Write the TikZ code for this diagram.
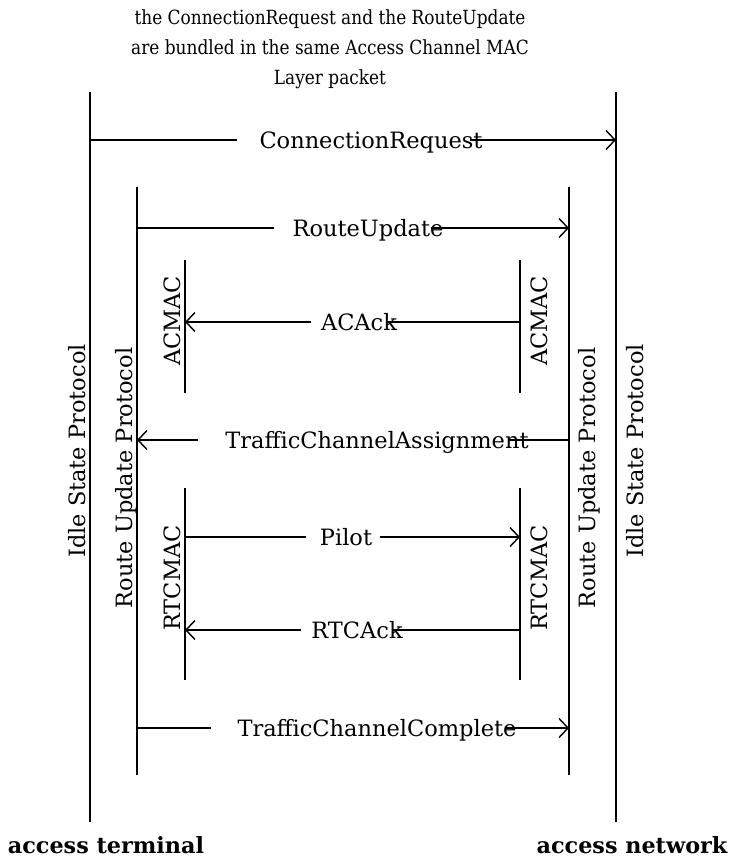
\documentclass[tikz,border=0pt]{standalone}
\usepackage{fontspec}
\setmainfont{DejaVu Serif}
\usetikzlibrary{arrows.meta}
\tikzset{
  life/.style={line width=1.6pt},
  msg/.style={line width=1.4pt},
  tip/.style={-{Straight Barb[length=9pt,width=19pt,line width=1.4pt]}},
  lbl/.style={inner sep=0pt,anchor=base,font=\fontsize{22.5}{26}\selectfont},
  vlbl/.style={inner sep=0pt,rotate=90,anchor=base,font=\fontsize{22.5}{26}\selectfont},
  bold/.style={inner sep=0pt,anchor=base,font=\fontsize{22.3}{26}\selectfont\bfseries},
}
\begin{document}
\begin{tikzpicture}[x=1pt,y=-1pt]
\useasboundingbox (0,0) rectangle (732,859);
% title
\node[inner sep=0pt,font=\fontsize{19.5}{30}\selectfont] (title) at (330,49)
  {\scalebox{0.87}[1]{\begin{tabular}{@{}c@{}}the ConnectionRequest and the RouteUpdate\\are bundled in the same Access Channel MAC\\Layer packet\end{tabular}}};
% lifelines
\coordinate (aT) at (90,92);  \coordinate (aB) at (90,822);
\coordinate (nT) at (616,92); \coordinate (nB) at (616,822);
\coordinate (raT) at (137,187); \coordinate (raB) at (137,775);
\coordinate (rnT) at (569,187); \coordinate (rnB) at (569,775);
\coordinate (acaT) at (185,260); \coordinate (acaB) at (185,393);
\coordinate (acnT) at (520,260); \coordinate (acnB) at (520,393);
\coordinate (rtaT) at (185,488); \coordinate (rtaB) at (185,680);
\coordinate (rtnT) at (520,488); \coordinate (rtnB) at (520,680);
\draw[life] (aT) -- (aB);
\draw[life] (nT) -- (nB);
\draw[life] (raT) -- (raB);
\draw[life] (rnT) -- (rnB);
\draw[life] (acaT) -- (acaB);
\draw[life] (acnT) -- (acnB);
\draw[life] (rtaT) -- (rtaB);
\draw[life] (rtnT) -- (rtnB);
% vertical labels (anchor = baseline)
\node[vlbl] (isa) at (85,451) {Idle State Protocol};
\node[vlbl] (isn) at (643,451) {Idle State Protocol};
\node[vlbl] (rua) at (132,478) {Route Update Protocol};
\node[vlbl] (run) at (595,478) {Route Update Protocol};
\node[vlbl] (aca) at (180,321) {ACMAC};
\node[vlbl] (acn) at (547,321) {ACMAC};
\node[vlbl] (rta) at (180,578) {RTCMAC};
\node[vlbl] (rtn) at (547,578) {RTCMAC};
% endpoints on lifelines
\coordinate (cr1) at (90,140);  \coordinate (cr2) at (616,140);
\coordinate (ru1) at (137,228); \coordinate (ru2) at (569,228);
\coordinate (ak1) at (185,322); \coordinate (ak2) at (520,322);
\coordinate (ta1) at (137,440); \coordinate (ta2) at (569,440);
\coordinate (pi1) at (185,537); \coordinate (pi2) at (520,537);
\coordinate (rk1) at (185,630); \coordinate (rk2) at (520,630);
\coordinate (tc1) at (137,728); \coordinate (tc2) at (569,728);
% messages
\node[lbl] (mcr) at (371,148) {ConnectionRequest};
\draw[msg] (cr1) -- ([xshift=-22pt]mcr.west |- cr1);
\draw[msg,tip] ([xshift=-13pt]mcr.east |- cr2) -- (cr2);
\node[lbl] (mru) at (368,236) {RouteUpdate};
\draw[msg] (ru1) -- ([xshift=-18pt]mru.west |- ru1);
\draw[msg,tip] ([xshift=-13pt]mru.east |- ru2) -- (ru2);
\node[lbl] (mak) at (359,330) {ACAck};
\draw[msg,tip] ([xshift=-10pt]mak.west |- ak1) -- (ak1);
\draw[msg] ([xshift=-10pt]mak.east |- ak2) -- (ak2);
\node[lbl] (mta) at (377,448) {TrafficChannelAssignment};
\draw[msg,tip] ([xshift=-27pt]mta.west |- ta1) -- (ta1);
\draw[msg] ([xshift=-20pt]mta.east |- ta2) -- (ta2);
\node[lbl] (mpi) at (346,545) {Pilot};
\draw[msg] (pi1) -- ([xshift=-14pt]mpi.west |- pi1);
\draw[msg,tip] ([xshift=8pt]mpi.east |- pi2) -- (pi2);
\node[lbl] (mrk) at (357,638) {RTCAck};
\draw[msg,tip] ([xshift=-10pt]mrk.west |- rk1) -- (rk1);
\draw[msg] ([xshift=-10pt]mrk.east |- rk2) -- (rk2);
\node[lbl] (mtc) at (377,736) {TrafficChannelComplete};
\draw[msg] (tc1) -- ([xshift=-26pt]mtc.west |- tc1);
\draw[msg,tip] ([xshift=-12pt]mtc.east |- tc2) -- (tc2);
% bottom labels
\node[bold] (at) at (106,853) {access terminal};
\node[bold] (an) at (632,853) {access network};
\end{tikzpicture}
\end{document}
